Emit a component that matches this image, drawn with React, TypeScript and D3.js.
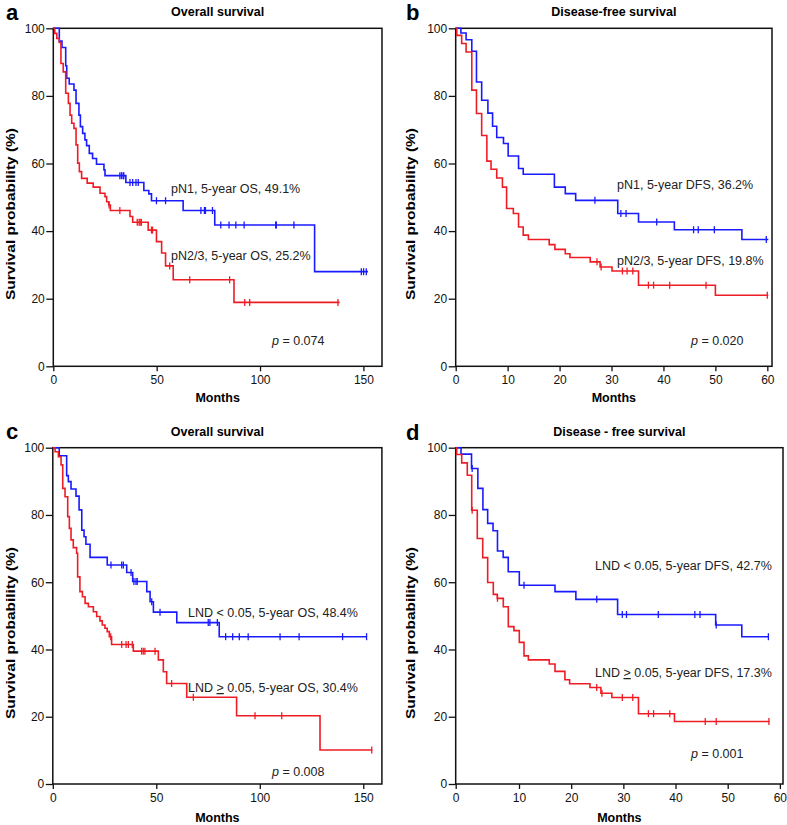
import { useEffect, useRef } from "react";
import * as d3 from "d3";

type Step = [number, number];

const FONT = "'Liberation Sans', Arial, Helvetica, sans-serif";
const BLUE = "#1a1aff";
const RED = "#ee1c25";

const yTicks = [0, 20, 40, 60, 80, 100];
const longTicks = [0, 50, 100, 150];
const shortTicks = [0, 10, 20, 30, 40, 50, 60];

// a: overall survival, pN1 vs pN2/3
const aBlue: Step[] = [
  [0, 100], [2.9, 96.2], [4.2, 94.3], [6.0, 88.9], [6.5, 85.2], [7.7, 83.5], [10.0, 81.7],
  [11.0, 77.8], [12.4, 74.3], [13.1, 70.9], [14.2, 68.9], [15.3, 67.0], [16.1, 65.3],
  [17.4, 63.0], [19.0, 61.5], [20.9, 59.8], [24.5, 58.1], [25.0, 56.4], [35.1, 54.4],
  [43.8, 52.0], [46.2, 51.0], [47.5, 49.0], [62.8, 46.1], [78.1, 41.8], [126.4, 28.0],
];
const aBlueEnd = 152.2;
const aBlueCens = [32.2, 33.0, 33.8, 34.1, 37.1, 38.4, 40.0, 41.1, 49.9, 54.3, 71.4, 73.1, 73.6, 77.0,
  81.0, 85.0, 88.3, 92.3, 107.6, 107.9, 116.4, 149.0, 150.1, 151.4];
const aRed: Step[] = [
  [0, 100], [0.7, 98.5], [1.7, 97.0], [2.9, 95.8], [3.7, 89.6], [4.8, 87.1], [6.0, 80.8],
  [7.3, 77.8], [8.1, 74.3], [8.9, 71.9], [10.0, 70.4], [11.0, 65.5], [11.8, 60.1], [12.6, 57.6],
  [13.7, 55.6], [16.4, 54.2], [19.3, 53.0], [22.6, 51.2], [25.0, 50.2], [25.8, 48.7], [26.8, 47.7],
  [27.6, 46.1], [37.1, 44.3], [38.4, 42.6], [45.9, 40.3], [49.9, 36.9], [52.4, 33.5], [54.3, 29.7],
  [58.0, 25.6], [87.4, 18.9],
];
const aRedEnd = 138.5;
const aRedCens = [27.0, 32.2, 40.6, 41.5, 42.0, 42.6, 47.5, 48.0, 56.3, 66.0, 85.3, 92.6, 95.0, 137.7];

// b: disease-free survival, pN1 vs pN2/3
const bBlue: Step[] = [
  [0, 100], [1.0, 98.6], [2.0, 96.6], [3.1, 93.2], [4.0, 84.1], [5.0, 78.7], [6.2, 74.9],
  [7.1, 71.0], [7.9, 67.7], [9.2, 65.9], [10.1, 62.2], [12.1, 58.5], [13.0, 56.8], [19.0, 53.0],
  [21.1, 51.1], [23.1, 49.1], [31.2, 45.2], [35.2, 42.7], [42.1, 40.4], [55.1, 37.5],
];
const bBlueEnd = 60.2;
const bBlueCens = [26.8, 31.8, 32.8, 38.7, 45.8, 46.7, 49.8, 59.8];
const bRed: Step[] = [
  [0, 100], [0.2, 97.9], [1.15, 95.5], [2.0, 93.0], [3.1, 81.7], [4.0, 74.8], [5.0, 68.3],
  [6.0, 60.7], [6.8, 58.3], [7.9, 55.7], [9.0, 53.0], [9.8, 46.7], [11.1, 45.2], [12.1, 41.2],
  [13.0, 38.8], [14.0, 37.5], [18.0, 36.0], [19.1, 34.6], [21.1, 33.3], [22.0, 32.2], [25.9, 30.9],
  [27.8, 29.4], [30.1, 28.2], [35.2, 24.0], [50.0, 21.0],
];
const bRedEnd = 60.2;
const bRedCens = [27.2, 28.0, 32.1, 33.0, 34.1, 37.1, 38.1, 41.2, 48.2, 60.0];

// c: overall survival by LND
const cBlue: Step[] = [
  [0, 100], [3.1, 97.6], [6.7, 91.7], [7.5, 89.9], [8.8, 87.7], [11.2, 85.6], [12.7, 81.5],
  [14.0, 75.5], [15.1, 73.5], [16.0, 71.3], [18.0, 67.4], [26.3, 65.1], [35.7, 62.9], [38.6, 60.2],
  [45.4, 57.2], [47.0, 54.2], [48.6, 51.1], [59.9, 48.0], [80.4, 43.8],
];
const cBlueEnd = 151.8;
const cBlueCens = [28.1, 33.3, 34.1, 37.8, 39.2, 40.2, 40.8, 47.8, 51.8, 75.1, 75.9, 79.5,
  83.5, 86.9, 90.1, 94.4, 109.8, 119.0, 140.0, 151.6];
const cRed: Step[] = [
  [0, 100], [1.1, 98.8], [2.7, 97.3], [4.0, 94.9], [4.8, 87.9], [5.9, 85.4], [7.2, 79.5],
  [8.0, 76.0], [8.8, 72.6], [9.9, 70.3], [11.5, 68.6], [12.0, 61.6], [13.1, 57.2], [14.3, 55.7],
  [15.6, 53.7], [17.2, 52.7], [19.6, 51.2], [21.2, 49.8], [22.8, 48.5], [23.9, 47.3], [25.2, 46.3],
  [26.3, 45.3], [27.3, 43.8], [28.4, 41.5], [38.9, 39.5], [51.0, 36.9], [53.4, 33.4], [55.0, 29.9],
  [64.7, 25.8], [88.8, 20.3], [129.1, 10.1],
];
const cRedEnd = 154.3;
const cRedCens = [28.0, 33.3, 35.4, 36.5, 38.4, 42.9, 43.7, 44.5, 49.4, 57.4, 67.9, 97.7, 110.6, 154.1];

// d: disease-free survival by LND
const dBlue: Step[] = [
  [0, 100], [0.84, 98.1], [2.5, 93.8], [3.5, 87.9], [4.3, 81.6], [5.05, 77.5], [5.9, 75.3],
  [6.6, 69.3], [7.5, 67.4], [8.3, 63.1], [10.06, 59.1], [16.9, 57.2], [20.9, 54.9], [28.9, 50.4],
  [47.7, 47.3], [52.7, 43.8],
];
const dBlueEnd = 57.9;
const dBlueCens = [2.6, 10.96, 24.9, 29.8, 30.6, 36.7, 43.7, 44.7, 47.8, 57.8];
const dRed: Step[] = [
  [0, 100], [0.15, 98.0], [0.95, 95.5], [1.83, 91.8], [2.53, 81.4], [3.41, 73.0], [4.27, 67.3],
  [5.05, 59.9], [5.94, 56.4], [6.57, 55.2], [7.52, 52.7], [8.31, 46.8], [9.2, 45.6], [10.06, 42.1],
  [10.96, 38.1], [11.8, 36.9], [15.8, 35.7], [16.9, 33.5], [18.8, 31.0], [19.7, 29.8], [23.6, 28.7],
  [25.7, 27.0], [27.8, 25.7], [32.9, 20.9], [39.8, 18.6],
];
const dRedEnd = 58.0;
const dRedCens = [2.6, 6.6, 24.9, 25.9, 29.8, 31.8, 34.8, 35.8, 38.9, 45.7, 47.8, 57.9];

type Curve = { steps: Step[]; end: number; cens: number[]; color: string };
type Note = { x: number; y: number; parts: { t: string; italic?: boolean; under?: boolean }[] };
type PanelCfg = {
  letter: string;
  title: string;
  x: d3.ScaleLinear<number, number>;
  y: d3.ScaleLinear<number, number>;
  xTicks: number[];
  letterX: number;
  letterY: number;
  titleY: number;
  ylabX: number;
  ylabY: number;
  monthsY: number;
  curves: Curve[];
  notes: Note[];
};

function survAt(steps: Step[], t: number) {
  let s = steps[0][1];
  for (const st of steps) if (st[0] <= t) s = st[1];
  return s;
}

function drawPanel(svg: d3.Selection<SVGSVGElement, unknown, null, undefined>, p: PanelCfg) {
  const g = svg.append("g");
  const [x0, x1] = [p.x.range()[0], p.x.range()[p.x.range().length - 1]];
  const [yb, yt] = p.y.range();

  const xa = g
    .append("g")
    .attr("transform", `translate(0,${yb})`)
    .call(d3.axisBottom(p.x).tickValues(p.xTicks).tickSize(5).tickPadding(4).tickSizeOuter(0));
  const ya = g
    .append("g")
    .attr("transform", `translate(${x0},0)`)
    .call(d3.axisLeft(p.y).tickValues(yTicks).tickSize(7).tickPadding(1.5).tickSizeOuter(0));
  for (const a of [xa, ya]) {
    a.select(".domain").remove();
    a.selectAll("line").attr("stroke", "#111").attr("stroke-width", 1.3);
    a.selectAll("text").attr("font-family", FONT).attr("font-size", 12).attr("fill", "#111");
  }

  g.append("rect")
    .attr("x", x0)
    .attr("y", yt)
    .attr("width", x1 - x0)
    .attr("height", yb - yt)
    .attr("fill", "none")
    .attr("stroke", "#111")
    .attr("stroke-width", 1.5);

  const line = d3
    .line<Step>()
    .x((d) => p.x(d[0]))
    .y((d) => p.y(d[1]))
    .curve(d3.curveStepAfter);

  for (const c of p.curves) {
    const pts: Step[] = [...c.steps, [c.end, c.steps[c.steps.length - 1][1]]];
    g.append("path")
      .attr("d", line(pts))
      .attr("fill", "none")
      .attr("stroke", c.color)
      .attr("stroke-width", 1.6);
    g.append("g")
      .selectAll("line")
      .data(c.cens)
      .join("line")
      .attr("x1", (t) => p.x(t))
      .attr("x2", (t) => p.x(t))
      .attr("y1", (t) => p.y(survAt(c.steps, t)) - 3.5)
      .attr("y2", (t) => p.y(survAt(c.steps, t)) + 3.5)
      .attr("stroke", c.color)
      .attr("stroke-width", 1.3);
  }

  for (const n of p.notes) {
    const tx = g
      .append("text")
      .attr("x", n.x)
      .attr("y", n.y)
      .attr("font-family", FONT)
      .attr("font-size", 12.5)
      .attr("fill", "#222");
    for (const part of n.parts) {
      const ts = tx.append("tspan").text(part.t);
      if (part.italic) ts.attr("font-style", "italic");
      if (part.under) ts.attr("text-decoration", "underline");
    }
  }

  const cx = (x0 + x1) / 2;
  g.append("text")
    .attr("x", cx)
    .attr("y", p.titleY)
    .attr("text-anchor", "middle")
    .attr("font-family", FONT)
    .attr("font-weight", "bold")
    .attr("font-size", 12.5)
    .text(p.title);
  g.append("text")
    .attr("x", cx)
    .attr("y", p.monthsY)
    .attr("text-anchor", "middle")
    .attr("font-family", FONT)
    .attr("font-weight", "bold")
    .attr("font-size", 12.5)
    .text("Months");
  g.append("text")
    .attr("transform", `translate(${p.ylabX},${p.ylabY}) rotate(-90)`)
    .attr("text-anchor", "middle")
    .attr("font-family", FONT)
    .attr("font-weight", "bold")
    .attr("font-size", 12.5)
    .attr("textLength", 172)
    .attr("lengthAdjust", "spacingAndGlyphs")
    .text("Survival probability (%)");
  g.append("text")
    .attr("x", p.letterX)
    .attr("y", p.letterY)
    .attr("font-family", FONT)
    .attr("font-weight", "bold")
    .attr("font-size", 22)
    .text(p.letter);
}

export default function App() {
  const ref = useRef<SVGSVGElement>(null);

  useEffect(() => {
    const svg = d3.select(ref.current!);
    svg.selectAll("*").remove();

    const yTop = d3.scaleLinear().domain([0, 100]).range([366.3, 28.3]);
    const yBot = d3.scaleLinear().domain([0, 100]).range([784, 447.7]);

    const panels: PanelCfg[] = [
      {
        letter: "a",
        title: "Overall survival",
        x: d3.scaleLinear().domain([0, 159]).range([53.3, 382]),
        y: yTop,
        xTicks: longTicks,
        letterX: 6,
        letterY: 20,
        titleY: 16,
        ylabX: 15,
        ylabY: 214,
        monthsY: 402,
        curves: [
          { steps: aBlue, end: aBlueEnd, cens: aBlueCens, color: BLUE },
          { steps: aRed, end: aRedEnd, cens: aRedCens, color: RED },
        ],
        notes: [
          { x: 171, y: 193, parts: [{ t: "pN1, 5-year OS, 49.1%" }] },
          { x: 171, y: 260, parts: [{ t: "pN2/3, 5-year OS, 25.2%" }] },
          { x: 272, y: 345, parts: [{ t: "p", italic: true }, { t: " = 0.074" }] },
        ],
      },
      {
        letter: "b",
        title: "Disease-free survival",
        x: d3.scaleLinear().domain([0, 60.9]).range([455.7, 772]),
        y: yTop,
        xTicks: shortTicks,
        letterX: 406,
        letterY: 20,
        titleY: 16,
        ylabX: 415,
        ylabY: 214,
        monthsY: 402,
        curves: [
          { steps: bBlue, end: bBlueEnd, cens: bBlueCens, color: BLUE },
          { steps: bRed, end: bRedEnd, cens: bRedCens, color: RED },
        ],
        notes: [
          { x: 617, y: 189, parts: [{ t: "pN1, 5-year DFS, 36.2%" }] },
          { x: 617, y: 265, parts: [{ t: "pN2/3, 5-year DFS, 19.8%" }] },
          { x: 691, y: 345, parts: [{ t: "p", italic: true }, { t: " = 0.020" }] },
        ],
      },
      {
        letter: "c",
        title: "Overall survival",
        x: d3.scaleLinear().domain([0, 159]).range([52.8, 381.9]),
        y: yBot,
        xTicks: longTicks,
        letterX: 6,
        letterY: 439,
        titleY: 436,
        ylabX: 15,
        ylabY: 633,
        monthsY: 822,
        curves: [
          { steps: cBlue, end: cBlueEnd, cens: cBlueCens, color: BLUE },
          { steps: cRed, end: cRedEnd, cens: cRedCens, color: RED },
        ],
        notes: [
          { x: 188, y: 616.5, parts: [{ t: "LND < 0.05, 5-year OS, 48.4%" }] },
          { x: 188, y: 692, parts: [{ t: "LND " }, { t: ">", under: true }, { t: " 0.05, 5-year OS, 30.4%" }] },
          { x: 272, y: 776, parts: [{ t: "p", italic: true }, { t: " = 0.008" }] },
        ],
      },
      {
        letter: "d",
        title: "Disease - free survival",
        x: d3.scaleLinear().domain([0, 10, 60.6]).range([455.7, 519, 783]),
        y: yBot,
        xTicks: shortTicks,
        letterX: 406,
        letterY: 440,
        titleY: 436,
        ylabX: 415,
        ylabY: 633,
        monthsY: 822,
        curves: [
          { steps: dBlue, end: dBlueEnd, cens: dBlueCens, color: BLUE },
          { steps: dRed, end: dRedEnd, cens: dRedCens, color: RED },
        ],
        notes: [
          { x: 595, y: 570, parts: [{ t: "LND < 0.05, 5-year DFS, 42.7%" }] },
          { x: 595, y: 677, parts: [{ t: "LND " }, { t: ">", under: true }, { t: " 0.05, 5-year DFS, 17.3%" }] },
          { x: 691, y: 757.5, parts: [{ t: "p", italic: true }, { t: " = 0.001" }] },
        ],
      },
    ];

    for (const p of panels) drawPanel(svg, p);
  }, []);

  return (
    <svg
      ref={ref}
      width={787}
      height={825}
      viewBox="0 0 787 825"
      style={{ position: "absolute", left: 0, top: 0, background: "#fff" }}
    />
  );
}
